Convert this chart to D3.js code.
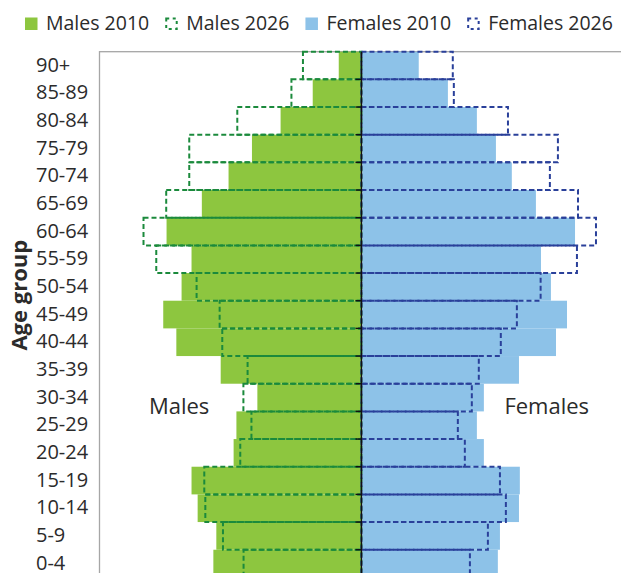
<!DOCTYPE html>
<html>
<head>
<meta charset="utf-8">
<script src="https://cdn.jsdelivr.net/npm/d3@7"></script>
<style>
  body { margin: 0; background: #fff; }
  text { font-family: "Open Sans", sans-serif; fill: #2b2b2b; }
</style>
</head>
<body>
<div id="canvas"></div>
<script>
// age groups, top to bottom
const ageGroups = ["90+", "85-89", "80-84", "75-79", "70-74", "65-69", "60-64", "55-59", "50-54",
    "45-49", "40-44", "35-39", "30-34", "25-29", "20-24", "15-19", "10-14", "5-9", "0-4"];

// population by age group (thousands)
const males2010 = [13.0, 27.9, 46.3, 62.7, 76.1, 91.4, 111.6, 97.3, 103.0, 113.5, 106.0, 80.6, 59.6, 71.6, 73.2, 97.3, 93.8, 83.1, 84.8];
const males2026 = [33.5, 40.1, 71.1, 98.6, 98.6, 111.8, 124.8, 117.5, 94.4, 81.2, 79.7, 65.2, 67.6, 63.0, 69.4, 90.0, 89.4, 79.3, 67.5];
const females2010 = [32.8, 49.5, 66.1, 77.0, 86.1, 99.9, 122.3, 102.8, 108.5, 117.7, 111.4, 90.2, 70.1, 66.1, 70.1, 90.7, 90.2, 79.3, 78.1];
const females2026 = [52.3, 52.9, 83.9, 112.5, 107.9, 124.0, 134.3, 123.4, 102.6, 89.0, 79.8, 67.2, 63.2, 55.2, 59.2, 79.3, 82.7, 72.4, 62.1];

const legendLabels = ["Males 2010", "Males 2026", "Females 2010", "Females 2026"];

const width = 621, height = 573;
const plot = {left: 99.5, top: 51.7, right: 623.4, bottom: 577.4};

const colours = {
    maleFill: "#8dc63f",
    femaleFill: "#8dc2e8",
    maleLine: "#1b8a3c",
    femaleLine: "#2a409a"
};

const svg = d3.select("#canvas")
    .append("svg")
    .attr("width", width)
    .attr("height", height);

// scales
const x = d3.scaleLinear()
    .domain([-150, 150])
    .range([plot.left, plot.right]);

const y = d3.scaleBand()
    .domain(ageGroups)
    .range([plot.top, plot.bottom])
    .padding(0);

const rows = ageGroups.map((g, i) => ({
    group: g,
    m10: males2010[i], m26: males2026[i],
    f10: females2010[i], f26: females2026[i]
}));

// plot frame
svg.append("rect")
    .attr("x", plot.left)
    .attr("y", plot.top)
    .attr("width", plot.right - plot.left + 10)
    .attr("height", plot.bottom - plot.top + 10)
    .attr("fill", "none")
    .attr("stroke", "#a6a6a6")
    .attr("stroke-width", 1.3);

// 2010 bars
svg.append("g").selectAll("rect")
    .data(rows)
    .join("rect")
    .attr("x", d => x(-d.m10))
    .attr("y", d => y(d.group))
    .attr("width", d => x(0) - x(-d.m10))
    .attr("height", y.bandwidth())
    .attr("fill", colours.maleFill);

svg.append("g").selectAll("rect")
    .data(rows)
    .join("rect")
    .attr("x", x(0) + 0.8)
    .attr("y", d => y(d.group))
    .attr("width", d => x(d.f10) - x(0) - 0.8)
    .attr("height", y.bandwidth())
    .attr("fill", colours.femaleFill);

// 2026 outlines
svg.append("g").selectAll("rect")
    .data(rows)
    .join("rect")
    .attr("x", d => x(-d.m26))
    .attr("y", d => y(d.group))
    .attr("width", d => x(0) - x(-d.m26))
    .attr("height", y.bandwidth())
    .attr("fill", "none")
    .attr("stroke", colours.maleLine)
    .attr("stroke-width", 2)
    .style("stroke-dasharray", "5, 3");

svg.append("g").selectAll("rect")
    .data(rows)
    .join("rect")
    .attr("x", x(0))
    .attr("y", d => y(d.group))
    .attr("width", d => x(d.f26) - x(0))
    .attr("height", y.bandwidth())
    .attr("fill", "none")
    .attr("stroke", colours.femaleLine)
    .attr("stroke-width", 2)
    .style("stroke-dasharray", "5, 3");

// centre axis with ticks at band boundaries
const axisG = svg.append("g");
axisG.append("line")
    .attr("x1", x(0)).attr("x2", x(0))
    .attr("y1", plot.top).attr("y2", plot.bottom)
    .attr("stroke", "#111")
    .attr("stroke-width", 1.4);
axisG.selectAll(".tick")
    .data(ageGroups.slice(0, -1))
    .join("line")
    .attr("class", "tick")
    .attr("x1", x(0) - 6).attr("x2", x(0))
    .attr("y1", d => y(d) + y.bandwidth())
    .attr("y2", d => y(d) + y.bandwidth())
    .attr("stroke", "#111")
    .attr("stroke-width", 1.4);

// age labels
svg.append("g").selectAll("text")
    .data(ageGroups)
    .join("text")
    .attr("x", 36)
    .attr("y", d => y(d) + y.bandwidth() / 2)
    .attr("dy", "0.3em")
    .style("font-size", "20px")
    .text(d => d);

// axis title
svg.append("text")
    .attr("transform", "translate(27," + (y("50-54") + y.bandwidth() * 0.8) + ") rotate(-90)")
    .attr("text-anchor", "middle")
    .style("font-size", "22px")
    .style("font-weight", "bold")
    .text("Age group");

// sex labels
svg.append("text")
    .attr("x", x(-104.4))
    .attr("y", y("30-34") + y.bandwidth() + 3)
    .attr("text-anchor", "middle")
    .style("font-size", "22px")
    .text("Males");

svg.append("text")
    .attr("x", x(106.1))
    .attr("y", y("30-34") + y.bandwidth() + 3)
    .attr("text-anchor", "middle")
    .style("font-size", "22px")
    .text("Females");

// legend
const legendStyles = [
    {fill: colours.maleFill, stroke: "none"},
    {fill: "none", stroke: colours.maleLine},
    {fill: colours.femaleFill, stroke: "none"},
    {fill: "none", stroke: colours.femaleLine}
];
const legend = svg.append("g");
let lx = 25;
legendLabels.forEach((label, i) => {
    const st = legendStyles[i];
    const sw = legend.append("rect")
        .attr("x", lx + (st.stroke !== "none" ? 1 : 0))
        .attr("y", 17.5 + (st.stroke !== "none" ? 1 : 0))
        .attr("width", st.stroke !== "none" ? 10.5 : 12.5)
        .attr("height", st.stroke !== "none" ? 10.5 : 12.5)
        .attr("fill", st.fill)
        .attr("stroke", st.stroke);
    if (st.stroke !== "none") {
        sw.attr("stroke-width", 2).style("stroke-dasharray", "3, 3.5");
    }
    const t = legend.append("text")
        .attr("x", lx + 21)
        .attr("y", 30)
        .style("font-size", "19.5px")
        .text(label);
    lx += 21 + t.node().getComputedTextLength() + 16;
});
</script>
</body>
</html>
